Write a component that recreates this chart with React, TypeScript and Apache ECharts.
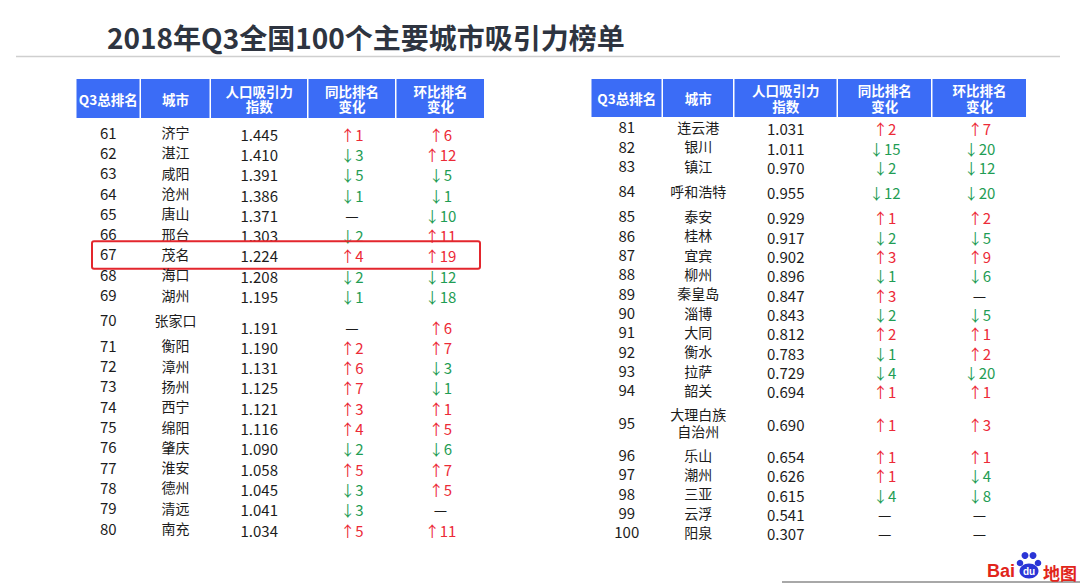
import React, { useEffect, useRef } from "react";
import * as echarts from "echarts";

// ---------- data ----------
const titleText = "2018年Q3全国100个主要城市吸引力榜单";
const headerLabels = ["Q3总排名", "城市", "人口吸引力\n指数", "同比排名\n变化", "环比排名\n变化"];

const leftRanks = [61, 62, 63, 64, 65, 66, 67, 68, 69, 70, 71, 72, 73, 74, 75, 76, 77, 78, 79, 80];
const leftCities = ["济宁", "湛江", "咸阳", "沧州", "唐山", "邢台", "茂名", "海口", "湖州", "张家口", "衡阳", "漳州", "扬州", "西宁", "绵阳", "肇庆", "淮安", "德州", "清远", "南充"];
const leftIndex = [1.445, 1.41, 1.391, 1.386, 1.371, 1.303, 1.224, 1.208, 1.195, 1.191, 1.19, 1.131, 1.125, 1.121, 1.116, 1.09, 1.058, 1.045, 1.041, 1.034];
const leftYoY: (number | null)[] = [1, -3, -5, -1, null, -2, 4, -2, -1, null, 2, 6, 7, 3, 4, -2, 5, -3, -3, 5];
const leftQoQ: (number | null)[] = [6, 12, -5, -1, -10, 11, 19, -12, -18, 6, 7, -3, -1, 1, 5, -6, 7, 5, null, 11];

const rightRanks = [81, 82, 83, 84, 85, 86, 87, 88, 89, 90, 91, 92, 93, 94, 95, 96, 97, 98, 99, 100];
const rightCities = ["连云港", "银川", "镇江", "呼和浩特", "泰安", "桂林", "宜宾", "柳州", "秦皇岛", "淄博", "大同", "衡水", "拉萨", "韶关", "大理白族\n自治州", "乐山", "潮州", "三亚", "云浮", "阳泉"];
const rightIndex = [1.031, 1.011, 0.97, 0.955, 0.929, 0.917, 0.902, 0.896, 0.847, 0.843, 0.812, 0.783, 0.729, 0.694, 0.69, 0.654, 0.626, 0.615, 0.541, 0.307];
const rightYoY: (number | null)[] = [2, -15, -2, -12, 1, -2, 3, -1, 3, -2, 2, -1, -4, 1, 1, 1, 1, -4, null, null];
const rightQoQ: (number | null)[] = [7, -20, -12, -20, 2, -5, 9, -6, null, -5, 1, 2, -20, 1, 3, 1, -4, -8, null, null];

const highlightRank = 67;

// ---------- layout ----------
const FONT = '"Noto Sans CJK SC", "Noto Sans", sans-serif';
const HEADER_BLUE = "#3b6cf6";
const UP_RED = "#ec2a37";
const DOWN_GREEN = "#1f9d55";
const TEXT_DARK = "#1c1c1c";

type TableLayout = {
  left: number;
  top: number;
  colWidths: number[];
  pitch: number;
  tallRows: Record<number, number>;
  valueDrop: Record<number, number>;
  headerTop: number;
  headerHeight: number;
};

const leftLayout: TableLayout = {
  left: 76,
  top: 123,
  colWidths: [64.5, 70, 97.5, 88, 89],
  pitch: 20.3,
  tallRows: { 70: 1.5 },
  valueDrop: { 70: 6 },
  headerTop: 79,
  headerHeight: 39,
};
const rightLayout: TableLayout = {
  left: 591,
  top: 118.3,
  colWidths: [71.5, 71.5, 103.5, 94.5, 95],
  pitch: 19.33,
  tallRows: { 84: 1.6, 95: 2.35 },
  valueDrop: {},
  headerTop: 79,
  headerHeight: 38,
};

function rowCenters(ranks: number[], tall: Record<number, number>) {
  let acc = 0;
  const centers: number[] = [];
  ranks.forEach((r) => {
    const h = tall[r] ?? 1;
    centers.push(acc + h / 2);
    acc += h;
  });
  return { centers, total: acc };
}

function colCenters(widths: number[]) {
  let acc = 0;
  return widths.map((w) => {
    const c = acc + w / 2;
    acc += w;
    return c;
  });
}

function changeText(v: number | null) {
  if (v === null || v === 0) return { text: "—", fill: TEXT_DARK };
  return v > 0 ? { text: "↑" + v, fill: UP_RED } : { text: "↓" + Math.abs(v), fill: DOWN_GREEN };
}

function txt(x: number, y: number, text: string, fill: string, size: number, weight = "normal", lineHeight?: number) {
  return {
    type: "text",
    x,
    y,
    style: {
      text,
      fill,
      fontSize: size,
      fontWeight: weight,
      fontFamily: FONT,
      lineHeight: lineHeight ?? size + 2,
      align: "center",
      verticalAlign: "middle",
      textAlign: "center",
      textVerticalAlign: "middle",
    },
  };
}

export default function App() {
  const ref = useRef<HTMLDivElement>(null);

  useEffect(() => {
    if (!ref.current) return;
    const chart = echarts.init(ref.current, null, { renderer: "svg" });

    const tables = [
      { layout: leftLayout, ranks: leftRanks, cities: leftCities, index: leftIndex, yoy: leftYoY, qoq: leftQoQ },
      { layout: rightLayout, ranks: rightRanks, cities: rightCities, index: rightIndex, yoy: rightYoY, qoq: rightQoQ },
    ];

    const grids: any[] = [];
    const xAxes: any[] = [];
    const yAxes: any[] = [];
    const series: any[] = [];
    const graphics: any[] = [];

    tables.forEach((t, ti) => {
      const L = t.layout;
      const { centers, total } = rowCenters(t.ranks, L.tallRows);
      const totalW = L.colWidths.reduce((a, b) => a + b, 0);
      const cc = colCenters(L.colWidths);
      grids.push({ left: L.left, top: L.top, width: totalW, height: total * L.pitch, containLabel: false });
      xAxes.push({ gridIndex: ti, type: "value", min: 0, max: totalW, show: false });
      yAxes.push({ gridIndex: ti, type: "value", min: 0, max: total, inverse: true, show: false });

      // header
      let acc = 0;
      L.colWidths.forEach((w, ci) => {
        const x0 = L.left + acc;
        graphics.push({
          type: "rect",
          shape: { x: x0 + 0.5, y: L.headerTop, width: w - 1.5, height: L.headerHeight },
          style: { fill: HEADER_BLUE },
        });
        const lines = headerLabels[ci].split("\n");
        const midY = L.headerTop + L.headerHeight / 2;
        lines.forEach((ln, li) => {
          const off = (li - (lines.length - 1) / 2) * 15.5;
          graphics.push(txt(x0 + w / 2, midY + off, ln, "#ffffff", 13.5, "bold", 14));
        });
        acc += w;
      });

      series.push({
        type: "custom",
        coordinateSystem: "cartesian2d",
        xAxisIndex: ti,
        yAxisIndex: ti,
        clip: false,
        data: centers.map((c) => [0, c]),
        renderItem: (params: any, api: any) => {
          const i = params.dataIndex;
          const yc = api.value(1);
          const rank = t.ranks[i];
          const drop = L.valueDrop[rank] ?? 0;
          const pt = (col: number) => api.coord([cc[col], yc]);
          const y = pt(0)[1];
          const yoy = changeText(t.yoy[i]);
          const qoq = changeText(t.qoq[i]);
          const children: any[] = [
            txt(pt(0)[0], y - 1, String(rank), TEXT_DARK, 15),
            txt(pt(1)[0], y - 1, t.cities[i], TEXT_DARK, 14, "normal", 17),
            txt(pt(2)[0], y + 1 + drop, t.index[i].toFixed(3), TEXT_DARK, 15),
            txt(pt(3)[0], y + 1 + drop, yoy.text, yoy.fill, 15),
            txt(pt(4)[0], y + 1 + drop, qoq.text, qoq.fill, 15),
          ];
          if (rank === highlightRank) {
            const a = api.coord([16, yc - 0.68]);
            const b = api.coord([totalW - 5, yc + 0.68]);
            children.push({
              type: "rect",
              shape: { x: a[0], y: a[1], width: b[0] - a[0], height: b[1] - a[1], r: 2 },
              style: { fill: "none", stroke: "#e3262d", lineWidth: 2 },
            });
          }
          return { type: "group", children };
        },
      });
    });

    // title, rules, logo
    graphics.push({
      type: "text",
      x: 107,
      y: 37,
      style: {
        text: titleText,
        fill: "#2e3440",
        fontSize: 28,
        fontWeight: "bold",
        fontFamily: FONT,
        align: "left",
        verticalAlign: "middle",
        textAlign: "left",
        textVerticalAlign: "middle",
      },
    });
    graphics.push({ type: "line", shape: { x1: 16, y1: 56.5, x2: 1060, y2: 56.5 }, style: { stroke: "#cfcfcf", lineWidth: 1.5 } });
    graphics.push({ type: "line", shape: { x1: 782, y1: 582, x2: 1080, y2: 582 }, style: { stroke: "#a8a8a8", lineWidth: 2 } });

    const logoBlue = "#2b35d6";
    const logoRed = "#e1251b";
    graphics.push({
      type: "text",
      x: 987,
      y: 571,
      style: { text: "Bai", fill: logoRed, fontSize: 18, fontWeight: "bold", fontFamily: '"Liberation Sans", Arial, sans-serif', align: "left", verticalAlign: "middle", textAlign: "left", textVerticalAlign: "middle" },
    });
    [
      [1020, 563, 3.3],
      [1025, 555.5, 3.5],
      [1033, 555.5, 3.5],
      [1038, 563, 3.3],
    ].forEach(([cx, cy, r]) => graphics.push({ type: "circle", shape: { cx, cy, r }, style: { fill: logoBlue } }));
    graphics.push({ type: "ellipse", shape: { cx: 1029, cy: 571, rx: 9.5, ry: 7.5 }, style: { fill: logoBlue } });
    graphics.push({
      type: "text",
      x: 1029,
      y: 571,
      style: { text: "du", fill: "#ffffff", fontSize: 10, fontWeight: "bold", fontFamily: '"Liberation Sans", Arial, sans-serif', align: "center", verticalAlign: "middle", textAlign: "center", textVerticalAlign: "middle" },
    });
    graphics.push({
      type: "text",
      x: 1043,
      y: 572,
      style: { text: "地图", fill: logoRed, fontSize: 17, fontWeight: "bold", fontFamily: FONT, align: "left", verticalAlign: "middle", textAlign: "left", textVerticalAlign: "middle" },
    });

    chart.setOption({
      animation: false,
      backgroundColor: "#ffffff",
      grid: grids,
      xAxis: xAxes,
      yAxis: yAxes,
      series,
      graphic: { elements: graphics },
    });

    return () => chart.dispose();
  }, []);

  return <div ref={ref} style={{ position: "fixed", left: 0, top: 0, width: 1080, height: 583 }} />;
}
